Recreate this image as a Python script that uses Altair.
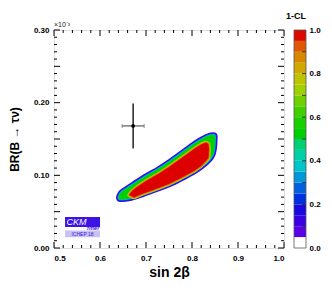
import altair as alt
import pandas as pd

# ---------------- data ----------------
# mid-level contour boundary (outer bands are drawn as strokes around it), in order (sin2beta, BR)
p1_x = [0.6402, 0.6446, 0.6652, 0.6935, 0.7239, 0.7522, 0.7783, 0.8065, 0.8272, 0.8380, 0.8457, 0.8489,
        0.8500, 0.8489, 0.8337, 0.8174, 0.8022, 0.7739, 0.7478, 0.7261, 0.6978, 0.6674, 0.6467, 0.6413]
p1_y = [0.0688, 0.0667, 0.0681, 0.0736, 0.0805, 0.0874, 0.0956, 0.1053, 0.1149, 0.1211, 0.1287, 0.1376,
        0.1486, 0.1555, 0.1541, 0.1486, 0.1424, 0.1294, 0.1177, 0.1087, 0.0984, 0.0860, 0.0771, 0.0716]
# red core (1-CL ~ 1) region boundary
core_x = [0.6630, 0.6739, 0.6913, 0.7217, 0.7500, 0.7761, 0.8043, 0.8196, 0.8304, 0.8359, 0.8370, 0.8359,
          0.8304, 0.8196, 0.8043, 0.7761, 0.7500, 0.7283, 0.7000, 0.6804, 0.6696]
core_y = [0.0729, 0.0695, 0.0743, 0.0812, 0.0881, 0.0963, 0.1060, 0.1128, 0.1197, 0.1238, 0.1349, 0.1431,
          0.1452, 0.1424, 0.1362, 0.1232, 0.1115, 0.1025, 0.0922, 0.0839, 0.0784]

# measurement with errors
meas_x, meas_xerr = 0.672, 0.024
meas_y, meas_yerr = 0.168, 0.031

# axes
x_major = [0.5, 0.6, 0.7, 0.8, 0.9, 1.0]
x_minor = [0.52, 0.54, 0.56, 0.58, 0.62, 0.64, 0.66, 0.68, 0.72, 0.74, 0.76, 0.78,
           0.82, 0.84, 0.86, 0.88, 0.92, 0.94, 0.96, 0.98]
y_major = [0.0, 0.05, 0.10, 0.15, 0.20, 0.25, 0.30]
y_minor = [0.01, 0.02, 0.03, 0.04, 0.06, 0.07, 0.08, 0.09, 0.11, 0.12, 0.13, 0.14,
           0.16, 0.17, 0.18, 0.19, 0.21, 0.22, 0.23, 0.24, 0.26, 0.27, 0.28, 0.29]

# colour bar (1-CL)
cb_lo = [0.00, 0.05, 0.10, 0.15, 0.20, 0.25, 0.30, 0.35, 0.40, 0.45,
         0.50, 0.55, 0.60, 0.65, 0.70, 0.75, 0.80, 0.85, 0.90, 0.95]
cb_hi = [0.05, 0.10, 0.15, 0.20, 0.25, 0.30, 0.35, 0.40, 0.45, 0.50,
         0.55, 0.60, 0.65, 0.70, 0.75, 0.80, 0.85, 0.90, 0.95, 1.00]
cb_col = ["#ffffff", "#5a00e6", "#3a00e2", "#1a08e0", "#0030e0", "#0060e0", "#0098d8", "#00c4c8", "#00d0a8", "#00d070",
          "#00d000", "#18d000", "#40d000", "#70d000", "#a0d000", "#c0c400", "#d0a800", "#d88800", "#e05800", "#dd0800"]
cb_ticks = [0.0, 0.1, 0.2, 0.3, 0.4, 0.5, 0.6, 0.7, 0.8, 0.9, 1.0]

# band colours (outer → inner)
outer_cols = ["#4400e8", "#0038f0", "#00b8d8"]
outer_w = [5, 3, 1.6]
mid_col = "#00d000"
inner_cols = ["#b4d000", "#ec7000"]
inner_w = [3.6, 1.8]
core_col = "#dd0000"

W, H = 230, 218
FONT = "Liberation Sans"

xs = alt.Scale(domain=[0.5, 1.0], nice=False, zero=False)
ys = alt.Scale(domain=[0.0, 0.30], nice=False, zero=False)

p1_df = pd.DataFrame({"x": p1_x, "y": p1_y, "i": range(len(p1_x))})
core_df = pd.DataFrame({"x": core_x, "y": core_y, "i": range(len(core_x))})

layers = []
for k, (c, w) in enumerate(zip(outer_cols, outer_w)):
    enc = dict(x="x:Q", y="y:Q", order=alt.Order("i:Q"))
    if k == 0:
        enc["x"] = alt.X("x:Q", scale=xs, axis=alt.Axis(
            values=x_major, format=".1f", tickSize=0, domain=False, grid=False,
            labelPadding=6, labelFontSize=8, labelFontWeight="bold",
            title="sin 2β", titleFontSize=14, titleFontWeight="bold",
            titlePadding=3, labelFont=FONT, titleFont=FONT))
        enc["y"] = alt.Y("y:Q", scale=ys, axis=alt.Axis(
            values=y_major, format=".2f", tickSize=0, domain=False, grid=False,
            labelPadding=5, labelFontSize=8, labelFontWeight="bold",
            title="BR(B → τν)", titleFontSize=12, titleFontWeight="bold",
            titlePadding=12, labelFont=FONT, titleFont=FONT))
    layers.append(alt.Chart(p1_df).mark_line(
        interpolate="cardinal-closed", filled=True, fill=c, stroke=c, strokeWidth=w, strokeJoin="round"
    ).encode(**enc))
layers.append(alt.Chart(p1_df).mark_line(
    interpolate="cardinal-closed", filled=True, color=mid_col
).encode(x="x:Q", y="y:Q", order=alt.Order("i:Q")))
for c, w in zip(inner_cols, inner_w):
    layers.append(alt.Chart(core_df).mark_line(
        interpolate="linear-closed", filled=True, fill=c, stroke=c, strokeWidth=w, strokeJoin="round"
    ).encode(x="x:Q", y="y:Q", order=alt.Order("i:Q")))
layers.append(alt.Chart(core_df).mark_line(
    interpolate="linear-closed", filled=True, color=core_col
).encode(x="x:Q", y="y:Q", order=alt.Order("i:Q")))

# measurement
m_df = pd.DataFrame({"x": [meas_x], "y": [meas_y],
                     "xl": [meas_x - meas_xerr], "xh": [meas_x + meas_xerr],
                     "yl": [meas_y - meas_yerr], "yh": [meas_y + meas_yerr]})
layers.append(alt.Chart(m_df).mark_rule(color="#666666", strokeWidth=1.3).encode(x="xl:Q", x2="xh:Q", y="y:Q"))
layers.append(alt.Chart(m_df).mark_tick(color="#666666", thickness=1, size=4, orient="vertical").encode(
    x="xl:Q", y="y:Q"))
layers.append(alt.Chart(m_df).mark_tick(color="#666666", thickness=1, size=4, orient="vertical").encode(
    x="xh:Q", y="y:Q"))
layers.append(alt.Chart(m_df).mark_rule(color="black", strokeWidth=1.3).encode(x="x:Q", y="yl:Q", y2="yh:Q"))
layers.append(alt.Chart(m_df).mark_point(filled=True, color="black", size=14, opacity=1).encode(x="x:Q", y="y:Q"))

# CKMfitter logo
logo_df = pd.DataFrame({"x": [0.524], "x2": [0.600],
                        "b1": [0.0288], "b2": [0.0425],
                        "w1": [0.0240], "l1": [0.0148]})
layers.append(alt.Chart(logo_df).mark_rect(color="#3c14e6").encode(x="x:Q", x2="x2:Q", y="b1:Q", y2="b2:Q"))
layers.append(alt.Chart(logo_df).mark_rect(color="#c8c2f4").encode(x="x:Q", x2="x2:Q", y="l1:Q", y2="w1:Q"))
layers.append(alt.Chart(pd.DataFrame({"x": [0.527], "y": [0.0322], "t": ["CKM"]})).mark_text(
    color="white", fontSize=9, fontStyle="italic", align="left", baseline="alphabetic", font=FONT
).encode(x="x:Q", y="y:Q", text="t:N"))
layers.append(alt.Chart(pd.DataFrame({"x": [0.5985], "y": [0.0247], "t": ["fitter"]})).mark_text(
    color="#3c14e6", fontSize=5.5, fontStyle="italic", fontWeight="bold", align="right", baseline="alphabetic",
    font=FONT
).encode(x="x:Q", y="y:Q", text="t:N"))
layers.append(alt.Chart(pd.DataFrame({"x": [0.562], "y": [0.0165], "t": ["ICHEP 18"]})).mark_text(
    color="#3c14e6", fontSize=5, align="center", baseline="alphabetic", font=FONT
).encode(x="x:Q", y="y:Q", text="t:N"))


# inner ticks
def xticks(vals, length):
    d = pd.DataFrame({"v": vals})
    b = alt.Chart(d).mark_rule(color="black", strokeWidth=1)
    return [b.encode(x="v:Q", y=alt.value(H), y2=alt.value(H - length)),
            b.encode(x="v:Q", y=alt.value(0), y2=alt.value(length))]


def yticks(vals, length):
    d = pd.DataFrame({"v": vals})
    b = alt.Chart(d).mark_rule(color="black", strokeWidth=1)
    return [b.encode(y="v:Q", x=alt.value(0), x2=alt.value(length)),
            b.encode(y="v:Q", x=alt.value(W), x2=alt.value(W - length))]


layers += xticks(x_major, 6) + xticks(x_minor, 3) + yticks(y_major, 6) + yticks(y_minor, 3)

# annotations
layers.append(alt.Chart(pd.DataFrame({"t": ["×10⁻³"]})).mark_text(
    fontSize=7, align="left", baseline="alphabetic", color="#222222", font=FONT
).encode(x=alt.value(0), y=alt.value(-3), text="t:N"))
layers.append(alt.Chart(pd.DataFrame({"t": ["1-CL"]})).mark_text(
    fontSize=9, fontWeight="bold", align="right", baseline="alphabetic", color="black", font=FONT
).encode(x=alt.value(252), y=alt.value(-11), text="t:N"))

main = alt.layer(*layers)

# colour bar
cbs = alt.Scale(domain=[0.0, 1.0], nice=False, zero=False)
cb_df = pd.DataFrame({"lo": cb_lo, "hi": cb_hi, "c": cb_col})
cbar = alt.Chart(cb_df).mark_rect().encode(
    x=alt.value(240), x2=alt.value(252),
    y=alt.Y("lo:Q", scale=cbs, axis=alt.Axis(orient="right", offset=22, values=cb_ticks, format=".1f",
                                             tickSize=0, domain=False, grid=False, labelPadding=3,
                                             labelFontSize=8, labelFontWeight="bold", title=None, labelFont=FONT)),
    y2="hi:Q",
    color=alt.Color("c:N", scale=None),
)
cb_frame = alt.Chart(pd.DataFrame({"lo": [0.0], "hi": [1.0]})).mark_rect(
    fill=None, stroke="#555555", strokeWidth=0.8
).encode(x=alt.value(240), x2=alt.value(252), y="lo:Q", y2="hi:Q")
cb_tk = alt.Chart(pd.DataFrame({"v": cb_ticks[1:-1]})).mark_rule(color="#333333", strokeWidth=1).encode(
    y="v:Q", x=alt.value(252), x2=alt.value(248))
cb = alt.layer(cbar, cb_frame, cb_tk)

chart = alt.layer(main, cb).resolve_scale(y="independent").properties(
    width=W, height=H, padding={"left": 0, "top": 4, "right": 0, "bottom": 0}
).configure_view(stroke="black", strokeWidth=1).configure(font=FONT)

chart.save("out.html", embed_options={"renderer": "svg", "actions": False})
